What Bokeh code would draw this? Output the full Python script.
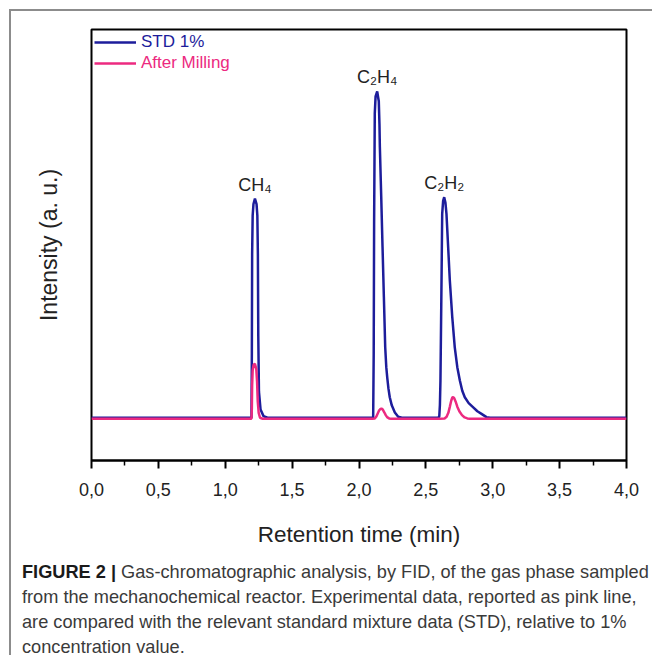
from bokeh.plotting import figure
from bokeh.layouts import column
from bokeh.models import (ColumnDataSource, Range1d, FixedTicker, Legend, LegendItem, Div)
from bokeh.core.properties import value
from bokeh.embed import file_html
from bokeh.resources import INLINE

# ---------------- data ----------------
std_time = [0.0, 1.180, 1.196, 1.199, 1.201, 1.205, 1.211, 1.222, 1.234, 1.240, 1.244, 1.247,
            1.252, 1.264, 1.286, 1.316,
            2.090, 2.106, 2.110, 2.113, 2.118, 2.124, 2.136, 2.148, 2.153, 2.156, 2.166, 2.176,
            2.186, 2.196, 2.204, 2.211, 2.220, 2.230, 2.245, 2.268, 2.293, 2.320,
            2.590, 2.600, 2.605, 2.609, 2.617, 2.622, 2.629, 2.637, 2.646, 2.654, 2.667, 2.679,
            2.697, 2.716, 2.735, 2.754, 2.772, 2.791, 2.820, 2.854, 2.885, 2.916, 2.953, 2.980,
            4.0]
std_signal = [0.0, 0.0, 0.0, 20.0, 50.0, 62.0, 65.5, 67.2, 65.5, 62.0, 50.0, 25.0,
              8.0, 2.5, 0.5, 0.0,
              0.0, 0.0, 20.0, 60.0, 93.3, 98.5, 100.0, 97.0, 90.0, 83.0, 68.0, 52.3,
              37.0, 21.6, 15.5, 12.4, 9.0, 6.3, 3.8, 1.6, 0.3, 0.0,
              0.0, 0.3, 4.0, 11.4, 42.1, 62.5, 66.5, 67.6, 66.0, 62.5, 52.0, 42.1,
              31.0, 21.6, 15.5, 11.4, 8.3, 6.3, 4.5, 3.2, 2.0, 1.2, 0.2, 0.0,
              0.0]

mill_time = [0.0, 1.190, 1.196, 1.199, 1.201, 1.205, 1.212, 1.222, 1.232, 1.238, 1.243, 1.250,
             1.260, 1.280,
             2.100, 2.118, 2.130, 2.140, 2.150, 2.160, 2.168, 2.178, 2.190, 2.200, 2.210, 2.225,
             2.240,
             2.600, 2.640, 2.655, 2.668, 2.680, 2.690, 2.698, 2.704, 2.712, 2.722, 2.735, 2.750,
             2.770, 2.790, 2.810, 2.830, 4.0]
mill_signal = [-0.3, -0.3, -0.3, 3.0, 10.0, 14.5, 16.3, 16.5, 15.0, 11.0, 5.0, 1.5,
               0.0, -0.3,
               -0.3, -0.2, 0.4, 1.3, 2.2, 2.7, 2.8, 2.5, 1.6, 0.8, 0.2, -0.2,
               -0.3,
               -0.3, -0.2, 0.3, 1.5, 3.5, 5.3, 6.2, 6.3, 6.0, 5.0, 3.4, 2.0,
               0.8, 0.1, -0.2, -0.3, -0.3]

peak_names = ["CH\u2084", "C\u2082H\u2084", "C\u2082H\u2082"]
peak_times = [1.222, 2.136, 2.637]
peak_heights = [67.2, 100.0, 67.6]

x_ticks = [0.0, 0.5, 1.0, 1.5, 2.0, 2.5, 3.0, 3.5, 4.0]
x_tick_labels = ["0,0", "0,5", "1,0", "1,5", "2,0", "2,5", "3,0", "3,5", "4,0"]
x_minor_ticks = [0.25, 0.75, 1.25, 1.75, 2.25, 2.75, 3.25, 3.75]

series_names = ["STD 1%", "After Milling"]

caption_bold = "FIGURE 2 |"
caption_lines = [
    "Gas-chromatographic analysis, by FID, of the gas phase sampled",
    "from the mechanochemical reactor. Experimental data, reported as pink line,",
    "are compared with the relevant standard mixture data (STD), relative to 1%",
    "concentration value.",
]

# ---------------- styles ----------------
BLUE = "#1d1d9b"
PINK = "#ec2a80"
FONT = "Liberation Sans"

p = figure(width=641, height=544, output_backend="svg", toolbar_location=None,
           x_range=Range1d(0, 4), y_range=Range1d(-13.1, 119.0),
           min_border_left=80, min_border_right=26, min_border_top=18, min_border_bottom=95)

p.grid.visible = False
p.outline_line_color = "black"
p.outline_line_width = 2
p.outline_line_alpha = 1
p.background_fill_color = "white"
p.border_fill_color = "white"

# y axis: title only
ya = p.yaxis[0]
ya.ticker = FixedTicker(ticks=[])
ya.major_label_text_font_size = "0px"
ya.major_label_standoff = 0
ya.major_tick_out = 0
ya.major_tick_in = 0
ya.minor_tick_out = 0
ya.minor_tick_in = 0
ya.axis_line_color = None
ya.axis_label = "Intensity (a. u.)"
ya.axis_label_text_font = FONT
ya.axis_label_text_font_size = "23px"
ya.axis_label_text_font_style = "normal"
ya.axis_label_text_color = "#222222"
ya.axis_label_standoff = 30

xa = p.xaxis[0]
xa.ticker = FixedTicker(ticks=x_ticks, minor_ticks=x_minor_ticks)
xa.major_label_overrides = {t: l for t, l in zip(x_ticks, x_tick_labels)}
xa.axis_line_color = "black"
xa.axis_line_width = 2
xa.major_tick_in = 0
xa.major_tick_out = 8
xa.minor_tick_in = 0
xa.minor_tick_out = 5
xa.major_tick_line_width = 2
xa.minor_tick_line_width = 1.5
xa.major_tick_line_color = "black"
xa.minor_tick_line_color = "black"
xa.major_label_text_font = FONT
xa.major_label_text_font_size = "18px"
xa.major_label_text_color = "#222222"
xa.major_label_standoff = 14
xa.axis_label = "Retention time (min)"
xa.axis_label_text_font = FONT
xa.axis_label_text_font_size = "22.5px"
xa.axis_label_text_font_style = "normal"
xa.axis_label_text_color = "#222222"
xa.axis_label_standoff = 23

r_std = p.line(std_time, std_signal, line_color=BLUE, line_width=2.5)
r_mill = p.line(mill_time, mill_signal, line_color=PINK, line_width=2.5)

# peak labels
lab_src = ColumnDataSource(dict(x=peak_times, y=peak_heights, text=peak_names))
p.text(x="x", y="y", text="text", source=lab_src, text_align="center",
       text_baseline="alphabetic", y_offset=-14, text_font=value(FONT),
       text_font_size="18px", text_color="#222222")

# legends (one per series so that each label gets its own colour)
for name, rend, col, vy in [(series_names[0], r_std, BLUE, 408), (series_names[1], r_mill, PINK, 387)]:
    lg = Legend(items=[LegendItem(label=name, renderers=[rend])], location=(3, vy),
                padding=0, margin=0, spacing=0, glyph_width=42, glyph_height=20,
                label_height=20, label_standoff=5, border_line_alpha=0,
                background_fill_alpha=0, label_text_font=FONT,
                label_text_font_size="17px", label_text_color=col)
    p.add_layout(lg, "center")

# caption
cap_html = ('<b style="color:#1a1a1a">' + caption_bold + '</b> ' + caption_lines[0] + '<br>'
            + '<br>'.join(caption_lines[1:]))
cap = Div(text=cap_html, width=641, height=100, margin=(0, 0, 0, 0),
          styles={"font-family": FONT, "font-size": "18.2px", "line-height": "25px",
                  "color": "#3a3a3a", "padding-left": "11px", "padding-top": "5px",
                  "white-space": "nowrap"})

layout = column(p, cap, margin=(9, 0, 0, 9), spacing=0,
                styles={"border-left": "2px solid #8c8c8c", "border-top": "2px solid #8c8c8c"})

open("out.html", "w").write(file_html(layout, INLINE))
